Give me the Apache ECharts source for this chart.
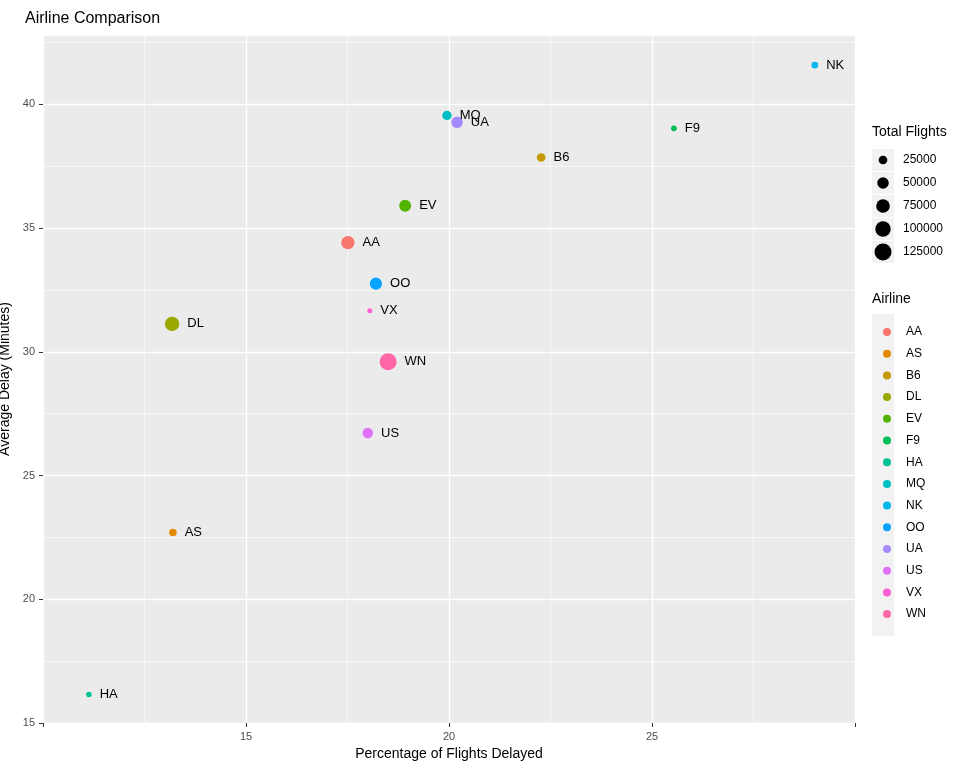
<!DOCTYPE html>
<html>
<head>
<meta charset="utf-8">
<script src="https://cdn.jsdelivr.net/npm/echarts@6/dist/echarts.min.js"></script>
<style>html,body{margin:0;padding:0;background:#fff}#main{width:965px;height:768px}</style>
</head>
<body>
<div id="main"></div>
<script>
var airlines = ['AA','AS','B6','DL','EV','F9','HA','MQ','NK','OO','UA','US','VX','WN'];
var pctDelayed = [17.51,13.2,22.27,13.18,18.92,25.54,11.13,19.95,29.01,18.2,20.2,18.0,18.05,18.5];
var avgDelay = [34.41,22.7,37.85,31.13,35.9,39.03,16.15,39.55,41.58,32.75,39.27,26.72,31.66,29.6];
var totalFlights = [72000,17000,25000,85000,55000,8000,7000,30000,12000,58000,50000,40000,5000,125000];
var colors = ['#F8766D','#E38900','#C49A00','#99A800','#53B400','#00BC56','#00C094','#00BFC4','#00B6EB','#06A4FF','#A58AFF','#DF70F8','#FB61D7','#FF66A8'];
var sizeBreaks = [25000,50000,75000,100000,125000];

function dia(v){ return 2 + 15*Math.sqrt(v/125000); }

var myChart = echarts.init(document.getElementById('main'));

var series = airlines.map(function(a,i){
	return {
		name: a, type: 'scatter',
		data: [[pctDelayed[i], avgDelay[i], totalFlights[i]]],
		symbolSize: function(d){ return dia(d[2]); },
		itemStyle: {color: colors[i], opacity: 1},
		label: {show: true, position: 'right', distance: 8, formatter: a, color: '#000', fontSize: 13}
	};
});

// size legend keys
var g = [{type:'text', left: 872, top: 125, style:{text:'Total Flights', fontSize:14, fill:'#000', fontFamily:'Arial'}}];
sizeBreaks.forEach(function(v,i){
	var cy = 160 + i*23;
	g.push({type:'rect', shape:{x:872,y:cy-11,width:22,height:22}, style:{fill:'#F2F2F2'}});
	g.push({type:'circle', shape:{cx:883,cy:cy,r:dia(v)/2}, style:{fill:'#000'}});
	g.push({type:'text', left: 903, top: cy-6, style:{text:String(v), fontSize:12, fill:'#000', fontFamily:'Arial'}});
});
g.push({type:'text', left: 872, top: 292, style:{text:'Airline', fontSize:14, fill:'#000', fontFamily:'Arial'}});
g.push({type:'rect', shape:{x:872,y:314,width:22,height:322}, style:{fill:'#F2F2F2'}});

var option = {
	textStyle: {fontFamily: 'Arial'},
	title: {text: 'Airline Comparison', left: 20, top: 6, textStyle:{fontSize:16, fontWeight:'normal', color:'#000'}},
	grid: {left: 43, right: 110, top: 35, bottom: 45, show: true, backgroundColor: '#EBEBEB', borderWidth: 0,
		containLabel: false, outerBoundsMode: 'none'},
	graphic: g,
	legend: {
		data: airlines, orient: 'vertical', left: 878, top: 321,
		icon: 'circle', itemWidth: 8, itemHeight: 8, itemGap: 9.7,
		textStyle: {fontSize: 12, color: '#000', padding:[0,0,0,10]}
	},
	xAxis: {
		type: 'value', min: 10, max: 30, interval: 5,
		name: 'Percentage of Flights Delayed', nameLocation: 'middle', nameGap: 24,
		nameTextStyle: {fontSize: 14, color: '#000'},
		axisLine: {show: false},
		axisTick: {show: true, length: 4, lineStyle:{color:'#333'}},
		axisLabel: {color: '#4D4D4D', fontSize: 11, formatter: function(v){ return (v==10||v==30)?'':v; }},
		splitLine: {lineStyle: {color: '#fff', width: 1.4}},
		minorTick: {show: false, splitNumber: 2},
		minorSplitLine: {show: true, lineStyle: {color: '#fff', width: 0.6}}
	},
	yAxis: {
		type: 'value', min: 15, max: 42.8, interval: 5,
		name: 'Average Delay (Minutes)', nameLocation: 'middle', nameGap: 22,
		nameTextStyle: {fontSize: 14, color: '#000'},
		axisLine: {show: false},
		axisTick: {show: true, length: 4, lineStyle:{color:'#333'}},
		axisLabel: {color: '#4D4D4D', fontSize: 11, showMaxLabel: false},
		splitLine: {lineStyle: {color: '#fff', width: 1.4}},
		minorTick: {show: false, splitNumber: 2},
		minorSplitLine: {show: true, lineStyle: {color: '#fff', width: 0.6}}
	},
	series: series
};
myChart.setOption(option);
</script>
</body>
</html>
